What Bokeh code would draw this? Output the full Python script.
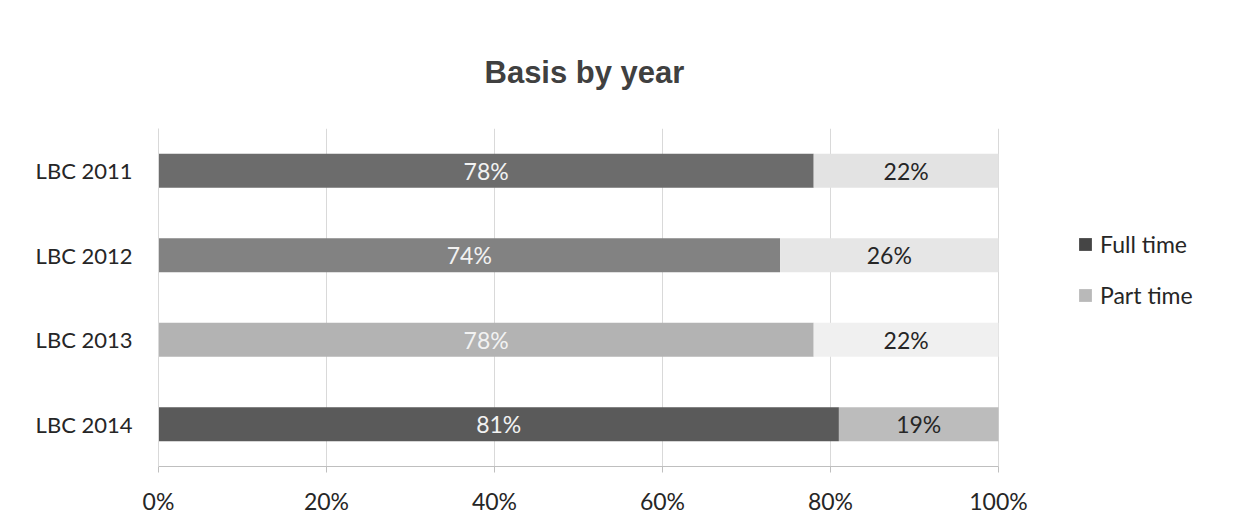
from bokeh.plotting import figure
from bokeh.models import ColumnDataSource, FactorRange, Legend, LegendItem, FixedTicker, Title
from bokeh.core.properties import value
from bokeh.embed import file_html
from bokeh.resources import INLINE

years = ["LBC 2011", "LBC 2012", "LBC 2013", "LBC 2014"]
full_time = [78, 74, 78, 81]
part_time = [22, 26, 22, 19]
full_colors = ["#6c6c6c", "#828282", "#b3b3b3", "#5a5a5a"]
part_colors = ["#e3e3e3", "#e6e6e6", "#f0f0f0", "#bcbcbc"]
legend_labels = ["Full time", "Part time"]
legend_colors = ["#454545", "#b9b9b9"]
tick_values = [0, 20, 40, 60, 80, 100]
tick_labels = ["0%", "20%", "40%", "60%", "80%", "100%"]

FONT = "Lato"
FS = "23px"

src = ColumnDataSource(dict(
    y=years,
    full=full_time,
    part=part_time,
    total=[f + q for f, q in zip(full_time, part_time)],
    fc=full_colors,
    pc=part_colors,
    full_mid=[f / 2 for f in full_time],
    part_mid=[f + q / 2 for f, q in zip(full_time, part_time)],
    full_lab=[f"{f}%" for f in full_time],
    part_lab=[f"{q}%" for q in part_time],
))

# frame spans the whole right side so the legend can sit inside it;
# the x scale keeps 0..100 on 840 px
W, H = 1234, 525
LEFT, TOP, BOTTOM = 158, 128, 59
PX_PER_PCT = 8.4
x_end = (W - LEFT) / PX_PER_PCT

p = figure(width=W, height=H, output_backend="svg", toolbar_location=None,
           x_range=(0, x_end), y_range=FactorRange(factors=years[::-1]),
           min_border_left=LEFT, min_border_right=0, min_border_top=TOP, min_border_bottom=BOTTOM)

p.title = Title(text="Basis by year", align="left", offset=326, text_font="Liberation Sans",
                text_font_size="31px", text_font_style="bold", text_color="#404040", standoff=78)

p.hbar(y="y", left=0, right="full", height=0.4, fill_color="fc", line_color=None, source=src)
p.hbar(y="y", left="full", right="total", height=0.4, fill_color="pc", line_color=None, source=src)

p.text(x="full_mid", y="y", text="full_lab", source=src, text_align="center", text_baseline="middle",
       text_font=value(FONT), text_font_size=FS, text_color="#f2f2f2")
p.text(x="part_mid", y="y", text="part_lab", source=src, text_align="center", text_baseline="middle",
       text_font=value(FONT), text_font_size=FS, text_color="#262626")

# legend swatches (placed off-range, only used for the legend glyphs)
items = []
for lab, col in zip(legend_labels, legend_colors):
    r = p.hbar(y=[years[0]], left=[-20], right=[-10], height=0.4, fill_color=col, line_color=None)
    items.append(LegendItem(label=lab, renderers=[r]))
legend = Legend(items=items, location=(919, 157), label_text_font=FONT, label_text_font_size=FS,
                label_text_color="#262626", glyph_width=16, glyph_height=16, spacing=23,
                label_standoff=7, border_line_color=None, background_fill_alpha=0, padding=0, margin=0)
p.add_layout(legend, "center")

p.xaxis.ticker = FixedTicker(ticks=tick_values)
p.xaxis.bounds = (0, 100)
p.xaxis.major_label_overrides = {v: l for v, l in zip(tick_values, tick_labels)}
p.xaxis.major_label_text_font = FONT
p.xaxis.major_label_text_font_size = FS
p.xaxis.major_label_text_color = "#262626"
p.xaxis.axis_line_color = "#bfbfbf"
p.xaxis.major_tick_line_color = "#bfbfbf"
p.xaxis.major_tick_out = 6
p.xaxis.major_tick_in = 0
p.xaxis.minor_tick_line_color = None
p.xaxis.major_label_standoff = 14

p.yaxis.major_label_text_font = FONT
p.yaxis.major_label_text_font_size = "22px"
p.yaxis.major_label_text_color = "#262626"
p.yaxis.axis_line_color = "#d9d9d9"
p.yaxis.major_tick_line_color = None
p.yaxis.major_label_standoff = 20

p.xgrid.grid_line_color = "#d9d9d9"
p.xgrid.ticker = FixedTicker(ticks=tick_values)
p.ygrid.grid_line_color = None
p.outline_line_color = None

open("out.html", "w").write(file_html(p, INLINE))
